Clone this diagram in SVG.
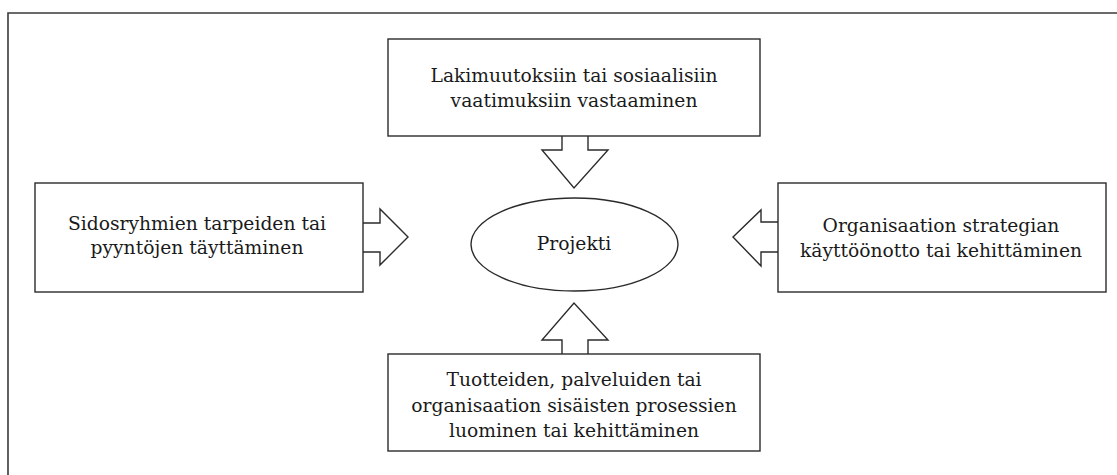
<svg xmlns="http://www.w3.org/2000/svg" width="1117" height="475" viewBox="0 0 1117 475">
  <style>
    .shape { fill: #ffffff; stroke: #2b2b2b; stroke-width: 1.4; stroke-linejoin: miter; }
    .frame { fill: none; stroke: #3a3a3a; stroke-width: 1.6; }
    .label { font-family: "DejaVu Serif", "Liberation Serif", serif; font-size: 18.7px; fill: #1a1a1a; text-anchor: middle; }
  </style>

  <rect width="1117" height="475" fill="#ffffff"/>

  <!-- outer frame, open past the right and bottom edges -->
  <path class="frame" d="M8,480 V13 H1125"/>

  <!-- block arrows pointing at the central node -->
  <g id="connectors">
    <path id="arrow-top" class="shape" d="M562,136 V150 H542 L574,188 L608,150 H588 V136"/>
    <path id="arrow-left" class="shape" d="M363,223 H380 V209 L408,237 L380,265 V252 H363"/>
    <path id="arrow-right" class="shape" d="M778,222 H761 V210 L733,237 L761,266 V252 H778"/>
    <path id="arrow-bottom" class="shape" d="M562,354 V340 H542 L574,303 L608,340 H588 V354"/>
  </g>

  <g id="node-top">
    <rect class="shape" x="388" y="39" width="372" height="97"/>
    <text class="label" x="574" y="82">Lakimuutoksiin tai sosiaalisiin</text>
    <text class="label" x="574" y="107">vaatimuksiin vastaaminen</text>
  </g>

  <g id="node-left">
    <rect class="shape" x="35" y="183" width="328" height="109"/>
    <text class="label" x="197" y="230">Sidosryhmien tarpeiden tai</text>
    <text class="label" x="197" y="254">pyyntöjen täyttäminen</text>
  </g>

  <g id="node-right">
    <rect class="shape" x="778" y="183" width="328" height="109"/>
    <text class="label" x="941" y="232">Organisaation strategian</text>
    <text class="label" x="941" y="257">käyttöönotto tai kehittäminen</text>
  </g>

  <g id="node-bottom">
    <rect class="shape" x="388" y="354" width="372" height="97"/>
    <text class="label" x="574" y="386">Tuotteiden, palveluiden tai</text>
    <text class="label" x="574" y="412">organisaation sisäisten prosessien</text>
    <text class="label" x="574" y="437">luominen tai kehittäminen</text>
  </g>

  <g id="node-center">
    <ellipse class="shape" cx="574.5" cy="244.5" rx="103.5" ry="46.5"/>
    <text class="label" x="574" y="250">Projekti</text>
  </g>
</svg>
